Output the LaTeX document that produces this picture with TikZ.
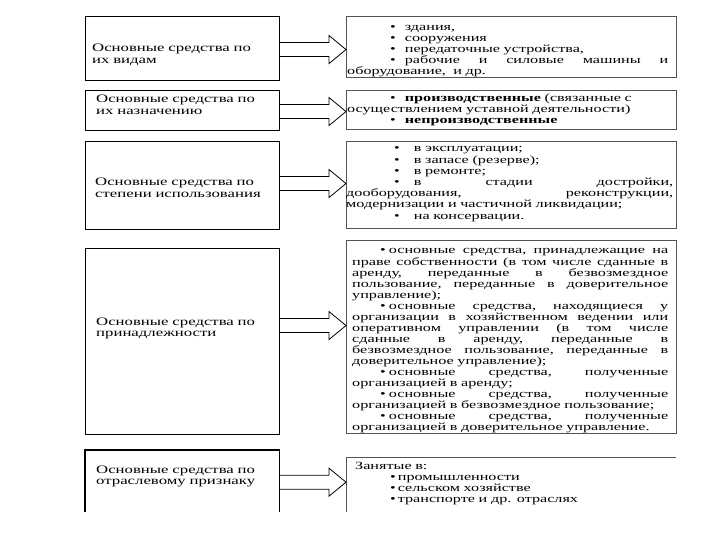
\documentclass[tikz,border=0pt]{standalone}
\usepackage{fontspec}
\newfontfamily\slidefont[FakeStretch=1.47]{Liberation Serif}
\usetikzlibrary{calc}
\newcommand{\itembul}[2]{\hspace*{#1}\textbullet\hspace{#2}}
% block arrow between a kind box and its list box
\newcommand{\blockarrow}[3]{%
  \draw[blockarr] let \p1 = ($(#1.east)+(0,#3)$), \p2 = (#2.west) in
    (\x1,\y1+7pt) -- (\x2-17pt,\y1+7pt) -- (\x2-17pt,\y1+14pt) -- (\x2,\y1)
    -- (\x2-17pt,\y1-14pt) -- (\x2-17pt,\y1-7pt) -- (\x1,\y1-7pt);}

\begin{document}
\begin{tikzpicture}[x=1pt, y=-1pt,
    kindbox/.style={draw=black, line width=1.1pt, anchor=north west, inner sep=0pt, minimum width=194pt},
    listbox/.style={draw=gray!65!black, line width=0.9pt, anchor=north west, inner sep=0pt, minimum width=330pt},
    kindtxt/.style={anchor=base west, inner sep=0pt, align=left, text width=185pt,
                    font=\slidefont\fontsize{11.4}{11.5}\selectfont},
    listtxt/.style={anchor=base west, inner sep=0pt, align=left,
                    font=\slidefont\fontsize{11}{11}\selectfont},
    blockarr/.style={draw=black, line width=0.8pt, line join=miter}]
  \useasboundingbox (0,0) rectangle (720,540);
  % left column
  \node[kindbox, minimum height=64pt] (kind1) at (85,16) {};
  \node[kindbox, minimum height=40pt] (kind2) at (85,90) {};
  \node[kindbox, minimum height=88pt] (kind3) at (85,141) {};
  \node[kindbox, minimum height=186pt] (kind4) at (85,248) {};
  \node[inner sep=0pt, anchor=north west, minimum width=194pt, minimum height=62pt] (kind5) at (85,450) {};
  \draw[line width=1.1pt] (kind5.south west) |- (kind5.north east) -- (kind5.south east);
  \node[kindtxt] (kind1txt) at (92,52) {Основные средства по\\их видам};
  \node[kindtxt] (kind2txt) at (96,103) {Основные средства по\\их назначению};
  \node[kindtxt] (kind3txt) at (95,186) {Основные средства по\\степени использования};
  \node[kindtxt] (kind4txt) at (96,325) {Основные средства по\\принадлежности};
  \node[kindtxt] (kind5txt) at (96,473) {Основные средства по\\отраслевому признаку};
  % right column
  \node[listbox, minimum height=61pt] (list1) at (346,16) {};
  \node[listbox, minimum height=39pt] (list2) at (346,90) {};
  \node[listbox, minimum height=87pt] (list3) at (346,141) {};
  \node[listbox, minimum height=193pt] (list4) at (346,240) {};
  \node[inner sep=0pt, anchor=north west, minimum width=330pt, minimum height=55pt] (list5) at (346,457) {};
  \draw[gray!65!black, line width=0.9pt] (list5.south west) |- (list5.north east);
  \node[listtxt, text width=321pt] (list1txt) at (347,31) {%
    \itembul{43pt}{9pt}здания,\\
    \itembul{43pt}{9pt}сооружения\\
    \itembul{43pt}{9pt}передаточные устройства,\\
    \itembul{43pt}{9pt}рабочие\hfill и\hfill силовые\hfill машины\hfill и\\
    оборудование, \ и др.};
  \node[listtxt, text width=321pt] (list2txt) at (347,102) {%
    \itembul{43pt}{9pt}\textbf{производственные} (связанные с\\
    осуществлением уставной деятельности)\\
    \itembul{43pt}{9pt}\textbf{непроизводственные}};
  \node[listtxt, text width=327pt, font=\slidefont\fontsize{11}{11.2}\selectfont] (list3txt) at (346,152) {%
    \itembul{48pt}{14pt}в эксплуатации;\\
    \itembul{48pt}{14pt}в запасе (резерве);\\
    \itembul{48pt}{14pt}в ремонте;\\
    \itembul{48pt}{14pt}в\hfill стадии\hfill достройки,\\
    дооборудования,\hfill реконструкции,\\
    модернизации и частичной ликвидации;\\
    \itembul{48pt}{14pt}на консервации.};
  \node[listtxt, text width=316pt, font=\slidefont\fontsize{11}{11.06}\selectfont] (list4txt) at (352,254) {%
    \itembul{28pt}{3pt}основные\hfill средства,\hfill принадлежащие\hfill на\\
    праве\hfill собственности\hfill (в\hfill том\hfill числе\hfill сданные\hfill в\\
    аренду,\hfill переданные\hfill в\hfill безвозмездное\\
    пользование,\hfill переданные\hfill в\hfill доверительное\\
    управление);\\
    \itembul{28pt}{3pt}основные\hfill средства,\hfill находящиеся\hfill у\\
    организации\hfill в\hfill хозяйственном\hfill ведении\hfill или\\
    оперативном\hfill управлении\hfill (в\hfill том\hfill числе\\
    сданные\hfill в\hfill аренду,\hfill переданные\hfill в\\
    безвозмездное\hfill пользование,\hfill переданные\hfill в\\
    доверительное управление);\\
    \itembul{28pt}{3pt}основные\hfill средства,\hfill полученные\\
    организацией в аренду;\\
    \itembul{28pt}{3pt}основные\hfill средства,\hfill полученные\\
    организацией в безвозмездное пользование;\\
    \itembul{28pt}{3pt}основные\hfill средства,\hfill полученные\\
    организацией в доверительное управление.};
  \node[listtxt, text width=310pt] (list5txt) at (355,469) {%
    Занятые в:\\
    \itembul{35pt}{2pt}промышленности\\
    \itembul{35pt}{2pt}сельском хозяйстве\\
    \itembul{35pt}{2pt}транспорте и др. отраслях};
  % arrows
  \blockarrow{kind1}{list1}{1}
  \blockarrow{kind2}{list2}{1}
  \blockarrow{kind3}{list3}{-2}
  \blockarrow{kind4}{list4}{-16}
  \blockarrow{kind5}{list5}{1}
\end{tikzpicture}
\end{document}
